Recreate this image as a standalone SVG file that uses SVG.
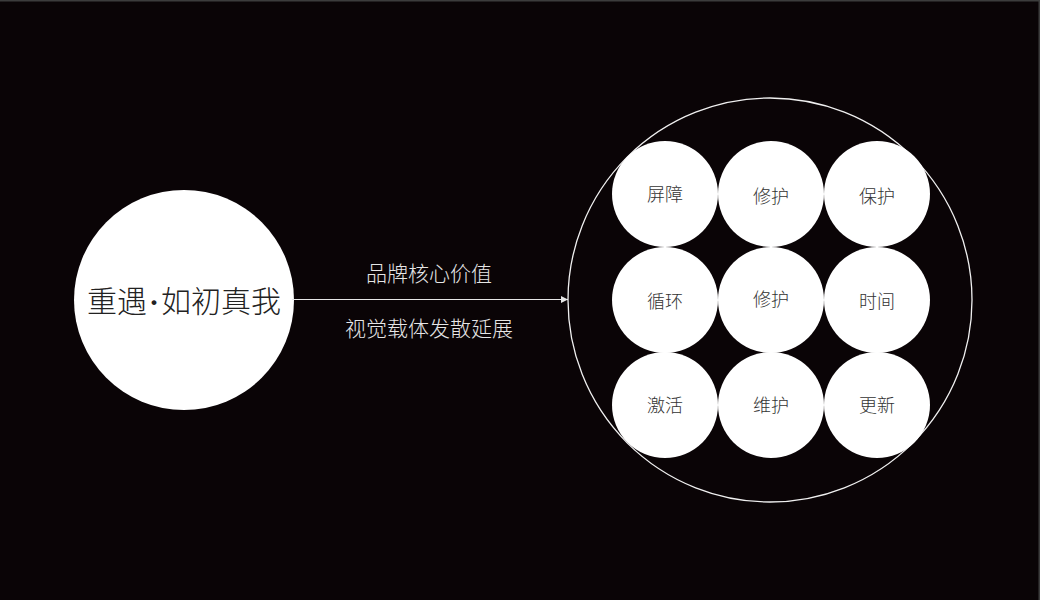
<svg xmlns="http://www.w3.org/2000/svg" width="1040" height="600" viewBox="0 0 1040 600">
<defs>
<style>
.bg{fill:#0a0406}
.disc{fill:#ffffff}
.lbl{font-family:"Noto Sans CJK SC","Noto Sans",sans-serif;font-weight:300;fill:#333333;font-size:18px;text-anchor:middle}
.cap{font-family:"Noto Sans CJK SC","Noto Sans",sans-serif;font-weight:300;fill:#e6e6e6;font-size:21px;text-anchor:middle}
.conn{stroke:#e6e6e6;stroke-width:1.2;fill:none}
</style>
<marker id="arr" markerWidth="8" markerHeight="8" refX="7" refY="4" orient="auto" markerUnits="userSpaceOnUse">
<path d="M0,0.5 L7,4 L0,7.5 Z" fill="#e6e6e6"/>
</marker>
</defs>
<rect class="bg" x="0" y="0" width="1040" height="600"/>
<path d="M0,0.75 H1039.25 V600" stroke="#3c3c3c" stroke-width="1.5" fill="none"/>
<g id="source">
<circle class="disc" cx="184" cy="300" r="110"/>
<text x="184" y="312" style="font-family:'Noto Sans CJK SC','Noto Sans',sans-serif;font-weight:300;font-size:30px;fill:#222;text-anchor:middle">重遇<tspan style="font-family:'Liberation Serif',serif;font-weight:700" dx="2">·</tspan><tspan dx="2">如初真我</tspan></text>
</g>
<g id="connectors">
<line class="conn" x1="292" y1="299.5" x2="568" y2="299.5" marker-end="url(#arr)"/>
</g>
<g id="caption">
<text class="cap" x="429" y="281">品牌核心价值</text>
<text class="cap" x="429" y="336">视觉载体发散延展</text>
</g>
<g id="container">
<circle cx="770" cy="300" r="202" fill="none" stroke="#f0f0f0" stroke-width="1.3"/>
</g>
<g id="n11"><circle class="disc" cx="665" cy="194" r="53"/><text class="lbl" x="665" y="201">屏障</text></g>
<g id="n12"><circle class="disc" cx="771" cy="194" r="53"/><text class="lbl" x="771" y="203">修护</text></g>
<g id="n13"><circle class="disc" cx="877" cy="194" r="53"/><text class="lbl" x="877" y="203">保护</text></g>
<g id="n21"><circle class="disc" cx="665" cy="300" r="53"/><text class="lbl" x="665" y="308">循环</text></g>
<g id="n22"><circle class="disc" cx="771" cy="300" r="53"/><text class="lbl" x="771" y="306">修护</text></g>
<g id="n23"><circle class="disc" cx="877" cy="300" r="53"/><text class="lbl" x="877" y="308">时间</text></g>
<g id="n31"><circle class="disc" cx="665" cy="405" r="53"/><text class="lbl" x="665" y="412">激活</text></g>
<g id="n32"><circle class="disc" cx="771" cy="405" r="53"/><text class="lbl" x="771" y="412">维护</text></g>
<g id="n33"><circle class="disc" cx="877" cy="405" r="53"/><text class="lbl" x="877" y="412">更新</text></g>
</svg>
